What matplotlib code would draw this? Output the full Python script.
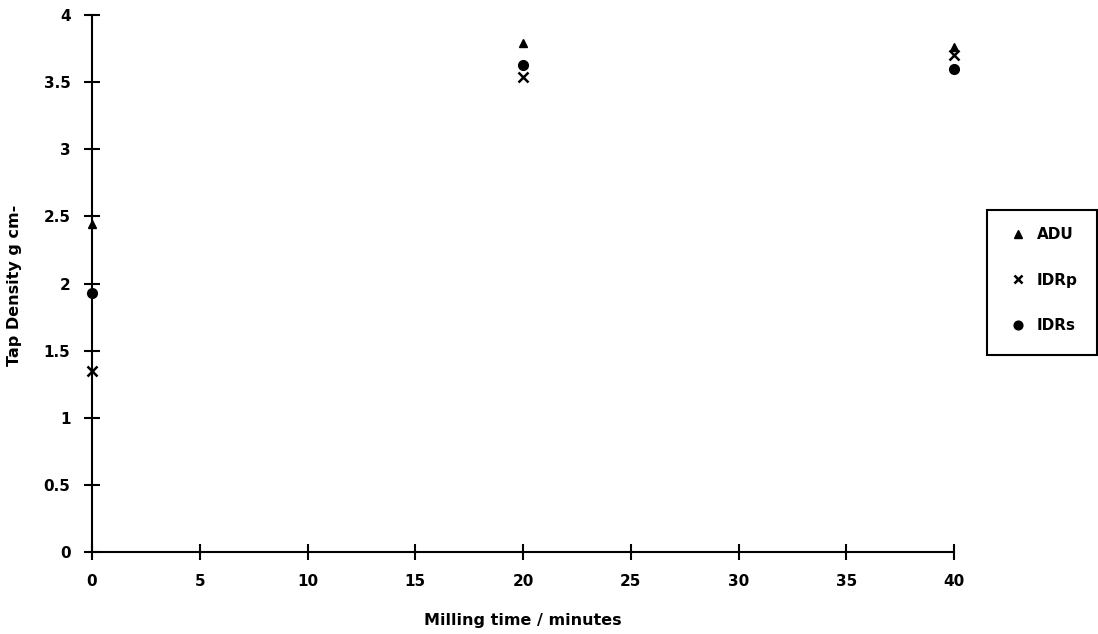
import matplotlib
matplotlib.use("Agg")
import matplotlib.pyplot as plt
from matplotlib.patches import Rectangle

# milling time in minutes
milling_time = [0, 20, 40]

# tap density g cm-3 per powder
adu = [2.44, 3.79, 3.76]
idr_p = [1.35, 3.54, 3.70]
idr_s = [1.93, 3.63, 3.60]

x_ticks = [0, 5, 10, 15, 20, 25, 30, 35, 40]
y_ticks = [0, 0.5, 1, 1.5, 2, 2.5, 3, 3.5, 4]

plt.rcParams["font.family"] = ["DejaVu Sans"]
plt.rcParams["font.weight"] = "bold"

W, H = 1098, 634
fig = plt.figure(figsize=(W / 100, H / 100), dpi=100)
ax = fig.add_axes([92 / W, 1 - 552 / H, (954 - 92) / W, (552 - 15) / H])

ax.plot(milling_time, adu, linestyle="none", marker="^", markersize=6, color="black",
        label="ADU", clip_on=False)
ax.plot(milling_time, idr_p, linestyle="none", marker="x", markersize=7, markeredgewidth=1.8,
        color="black", label="IDRp", clip_on=False)
ax.plot(milling_time, idr_s, linestyle="none", marker="o", markersize=7, color="black",
        label="IDRs", clip_on=False)

ax.set_xlim(0, 40)
ax.set_ylim(0, 4)
ax.set_xticks(x_ticks)
ax.set_yticks(y_ticks)
ax.set_xticklabels([str(v) for v in x_ticks])
ax.set_yticklabels([f"{v:g}" for v in y_ticks])
ax.tick_params(direction="inout", length=11, width=1.5, labelsize=11, pad=10)
for lbl in ax.get_xticklabels() + ax.get_yticklabels():
    lbl.set_fontweight("bold")

for side in ["top", "right"]:
    ax.spines[side].set_visible(False)
for side in ["left", "bottom"]:
    ax.spines[side].set_linewidth(1.5)
ax.patch.set_visible(False)

fig.text(15 / W, 1 - 285 / H, "Tap Density g cm-", rotation=90, ha="center", va="center",
         fontsize=11.5, fontweight="bold")
fig.text(523 / W, 1 - 620 / H, "Milling time / minutes", ha="center", va="center",
         fontsize=11.5, fontweight="bold")

# legend box drawn by hand, entries from a frameless legend
fig.patches.append(Rectangle((987 / W, 1 - 355 / H), (1097 - 987) / W, (355 - 210) / H,
                             transform=fig.transFigure, fill=False, edgecolor="black",
                             linewidth=1.5))
leg = fig.legend(loc="upper left", bbox_to_anchor=(1013 / W, 1 - 227 / H), fontsize=11,
                 frameon=False, handlelength=0.6, handletextpad=0.95, labelspacing=2.0,
                 borderpad=0, borderaxespad=0, markerscale=0.9)
for t in leg.get_texts():
    t.set_fontweight("bold")

fig.savefig("out.png", dpi=100)
